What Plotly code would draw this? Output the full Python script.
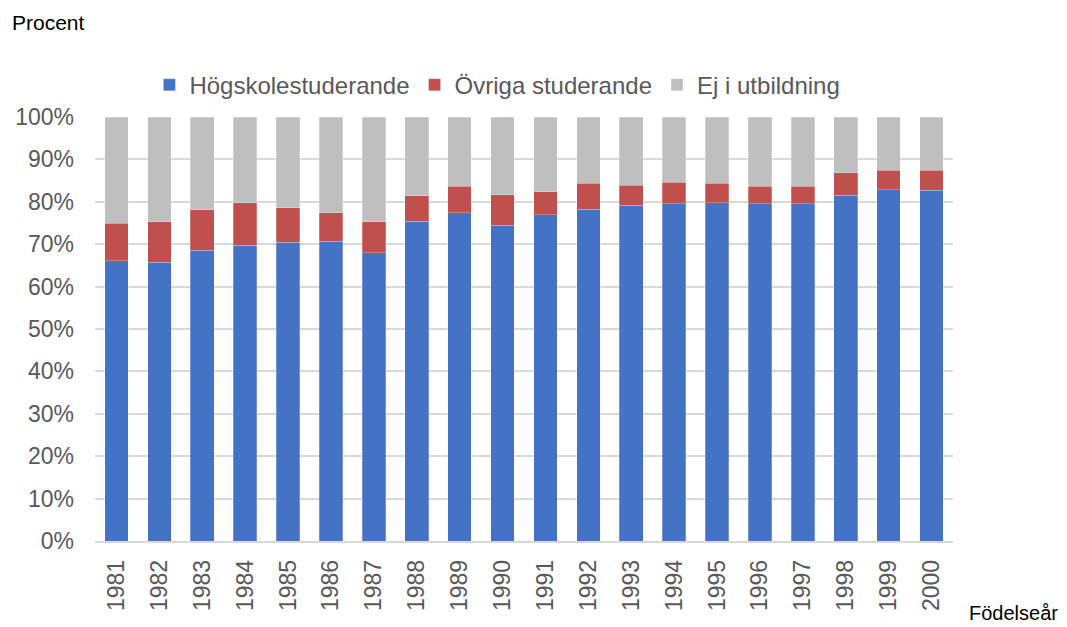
import plotly.graph_objects as go

years = [str(y) for y in range(1981, 2001)]
hogskola = [66.1, 65.7, 68.6, 69.7, 70.5, 70.7, 68.0, 75.4, 77.4, 74.5,
            77.0, 78.2, 79.2, 79.6, 79.8, 79.6, 79.5, 81.6, 82.9, 82.7]
red_top = [75.0, 75.3, 78.1, 79.8, 78.6, 77.4, 75.3, 81.4, 83.7, 81.7,
           82.4, 84.4, 83.9, 84.6, 84.4, 83.7, 83.7, 86.9, 87.5, 87.5]
ovriga = [round(r - h, 1) for r, h in zip(red_top, hogskola)]
ej = [round(100 - r, 1) for r in red_top]

font_family = "Arial, Liberation Sans, sans-serif"
fig = go.Figure()
for name, vals, col in [("Högskolestuderande", hogskola, "#4472C4"),
                        ("Övriga studerande", ovriga, "#C0504D"),
                        ("Ej i utbildning", ej, "#BFBFBF")]:
    fig.add_trace(go.Bar(x=years, y=vals, name=name, marker_color=col,
                         marker_line=dict(color="rgba(255,255,255,0.5)", width=0.5)))

fig.update_layout(
    barmode="stack", bargap=0.45,
    width=1059, height=619,
    margin=dict(l=87, r=114, t=109, b=86),
    plot_bgcolor="white", paper_bgcolor="white",
    font=dict(family=font_family, size=23, color="#595959"),
    legend=dict(orientation="h", x=0.469, xanchor="center", y=1.075, yanchor="middle",
                font=dict(size=24, color="#595959"), traceorder="normal",
                itemwidth=30, tracegroupgap=0),
    xaxis=dict(tickangle=-90, showline=True, linecolor="#D9D9D9", linewidth=1.5,
               ticks="", ticklabelstandoff=8, automargin=False,
               tickfont=dict(size=23, color="#595959")),
    yaxis=dict(range=[0, 100], dtick=10, ticksuffix="%", showgrid=True,
               gridcolor="#D9D9D9", gridwidth=1.5, zeroline=False, automargin=False,
               ticklabelstandoff=20, tickfont=dict(size=23, color="#595959")),
    annotations=[
        dict(text="Procent", xref="paper", yref="paper", x=-0.099, y=1.224,
             xanchor="left", yanchor="middle", showarrow=False,
             font=dict(size=21, color="black", family=font_family)),
        dict(text="Födelseår", xref="paper", yref="paper", x=1.016, y=-0.170,
             xanchor="left", yanchor="middle", showarrow=False,
             font=dict(size=20, color="black", family=font_family)),
    ],
)
fig.write_html("out.html")
